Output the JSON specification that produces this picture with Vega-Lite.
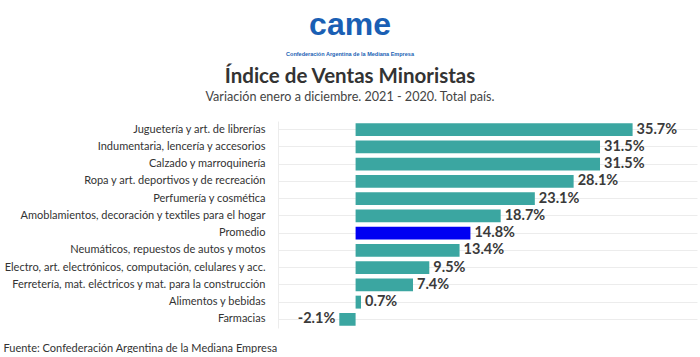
{
  "$schema": "https://vega.github.io/schema/vega-lite/v6.json",
  "background": "white",
  "padding": {"left": 3, "top": 8, "right": 3, "bottom": 0},
  "config": {
    "view": {"stroke": null},
    "locale": {"number": {"decimal": ".", "thousands": ",", "grouping": [3], "currency": ["$", ""], "minus": "-", "percent": "%"}}
  },
  "title": {
    "text": "came",
    "subtitle": "Confederación Argentina de la Mediana Empresa",
    "anchor": "middle",
    "frame": "bounds",
    "font": "Liberation Sans",
    "fontSize": 32,
    "fontWeight": "bold",
    "color": "#1a5fb4",
    "subtitleFont": "Liberation Sans",
    "subtitleFontSize": 5.5,
    "subtitleFontWeight": "bold",
    "subtitleColor": "#1a5fb4",
    "subtitlePadding": 10,
    "offset": 8.5
  },
  "spacing": 0,
  "vconcat": [
    {
      "width": 419,
      "height": 207,
      "title": {
        "text": "Índice de Ventas Minoristas",
        "subtitle": "Variación enero a diciembre. 2021 - 2020. Total país.",
        "anchor": "middle",
        "frame": "bounds",
        "font": "Lato",
        "fontSize": 20.5,
        "fontWeight": "bold",
        "color": "#333333",
        "subtitleFont": "Lato",
        "subtitleFontSize": 12.6,
        "subtitleColor": "#444444",
        "subtitlePadding": 4,
        "offset": 17
      },
      "data": {
        "values": [
          {"cat": "Juguetería y art. de librerías", "v": 0.357},
          {"cat": "Indumentaria, lencería y accesorios", "v": 0.315},
          {"cat": "Calzado y marroquinería", "v": 0.315},
          {"cat": "Ropa y art. deportivos y de recreación", "v": 0.281},
          {"cat": "Perfumería y cosmética", "v": 0.231},
          {"cat": "Amoblamientos, decoración y textiles para el hogar", "v": 0.187},
          {"cat": "Promedio", "v": 0.148},
          {"cat": "Neumáticos, repuestos de autos y motos", "v": 0.134},
          {"cat": "Electro, art. electrónicos, computación, celulares y acc.", "v": 0.095},
          {"cat": "Ferretería, mat. eléctricos y mat. para la construcción", "v": 0.074},
          {"cat": "Alimentos y bebidas", "v": 0.007},
          {"cat": "Farmacias", "v": -0.021}
        ]
      },
      "encoding": {
        "y": {
          "field": "cat",
          "type": "nominal",
          "sort": null,
          "scale": {"paddingInner": 0.25, "paddingOuter": 0.125},
          "axis": {
            "title": null,
            "ticks": false,
            "domain": true,
            "domainColor": "#ececec",
            "domainWidth": 1,
            "grid": true,
            "bandPosition": 0.5,
            "gridColor": "#ececec",
            "gridWidth": 1,
            "labelFont": "Lato",
            "labelFontSize": 11,
            "labelColor": "#333333",
            "labelPadding": 13,
            "labelLimit": 400
          }
        },
        "x": {
          "field": "v",
          "type": "quantitative",
          "scale": {"domain": [-0.1, 0.44], "nice": false, "zero": false},
          "axis": {
            "labels": false,
            "ticks": false,
            "domain": false,
            "grid": false,
            "title": "Fuente: Confederación Argentina de la Mediana Empresa",
            "titleAnchor": "start",
            "titleAlign": "left",
            "titleX": -275,
            "titleY": 23,
            "titleBaseline": "alphabetic",
            "titleFont": "Lato",
            "titleFontSize": 11,
            "titleFontWeight": "normal",
            "titleColor": "#333333"
          }
        }
      },
      "layer": [
        {
          "mark": {"type": "bar"},
          "encoding": {
            "color": {
              "condition": {"test": "datum.cat === 'Promedio'", "value": "#0000f2"},
              "value": "#3ba6a1"
            }
          }
        },
        {
          "transform": [{"filter": "datum.v >= 0"}],
          "mark": {"type": "text", "align": "left", "dx": 4, "font": "Lato", "fontSize": 14.5, "fontWeight": "bold", "color": "#3a3a3a"},
          "encoding": {"text": {"field": "v", "type": "quantitative", "format": ".1%"}}
        },
        {
          "transform": [{"filter": "datum.v < 0"}],
          "mark": {"type": "text", "align": "right", "dx": -4, "font": "Lato", "fontSize": 14.5, "fontWeight": "bold", "color": "#3a3a3a"},
          "encoding": {"text": {"field": "v", "type": "quantitative", "format": ".1%"}}
        }
      ]
    }
  ]
}
